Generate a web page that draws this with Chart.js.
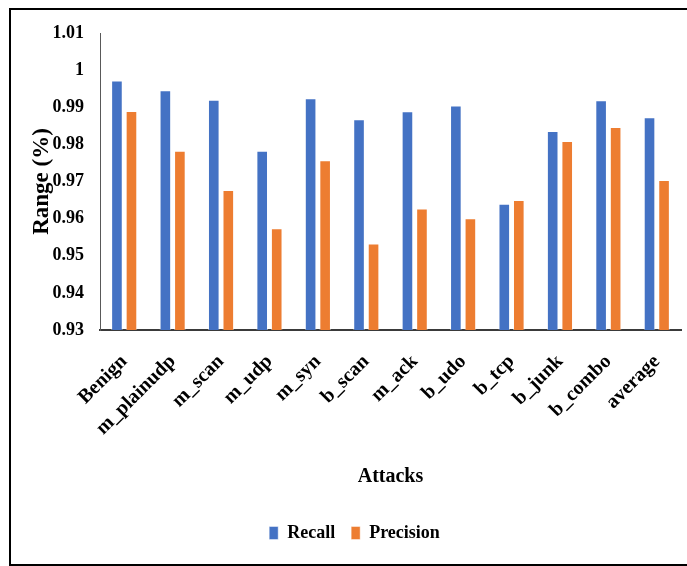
<!DOCTYPE html>
<html>
<head>
<meta charset="utf-8">
<script src="https://cdn.jsdelivr.net/npm/chart.js@4/dist/chart.umd.min.js"></script>
<style>
  html, body { margin: 0; padding: 0; background: #ffffff; }
  #wrap { position: relative; width: 687px; height: 566px; }
</style>
</head>
<body>
<div id="wrap"><canvas id="chart" width="687" height="566"></canvas></div>
<script>
// Attack categories on the x axis
const attacks = ['Benign', 'm_plainudp', 'm_scan', 'm_udp', 'm_syn', 'b_scan',
                 'm_ack', 'b_udo', 'b_tcp', 'b_junk', 'b_combo', 'average'];

// Recall and precision per attack type
const recall    = [0.9972, 0.9946, 0.9920, 0.9783, 0.9924, 0.9868,
                   0.9889, 0.9905, 0.9640, 0.9836, 0.9919, 0.9873];
const precision = [0.9890, 0.9783, 0.9677, 0.9574, 0.9757, 0.9533,
                   0.9627, 0.9601, 0.9650, 0.9809, 0.9847, 0.9704];

// Y axis range and tick step
const yMin = 0.93;
const yMax = 1.01;
const yStep = 0.01;

const serif = '"Liberation Serif", "Times New Roman", serif';

// Thin frame around the whole figure
const framePlugin = {
  id: 'frame',
  beforeDraw(chart) {
    const ctx = chart.ctx;
    ctx.save();
    ctx.fillStyle = '#ffffff';
    ctx.fillRect(0, 0, chart.width, chart.height);
    ctx.strokeStyle = '#000000';
    ctx.lineWidth = 2;
    ctx.strokeRect(10, 9, chart.width + 20, chart.height - 10);
    ctx.restore();
  }
};

new Chart(document.getElementById('chart'), {
  type: 'bar',
  data: {
    labels: attacks,
    datasets: [
      {
        label: 'Recall',
        data: recall,
        backgroundColor: '#4472C4',
        borderColor: 'rgba(255,255,255,0.45)',
        borderWidth: 1,
        categoryPercentage: 0.6,
        barPercentage: 0.8
      },
      {
        label: 'Precision',
        data: precision,
        backgroundColor: '#ED7D31',
        borderColor: 'rgba(255,255,255,0.45)',
        borderWidth: 1,
        categoryPercentage: 0.6,
        barPercentage: 0.8
      }
    ]
  },
  options: {
    responsive: false,
    animation: false,
    devicePixelRatio: 1,
    layout: { padding: { top: 33, right: 6, bottom: 14, left: 28 } },
    plugins: {
      legend: {
        position: 'bottom',
        labels: {
          color: '#000000',
          font: { family: serif, size: 18, weight: 'bold' },
          boxWidth: 9,
          boxHeight: 13,
          padding: 16
        }
      },
      tooltip: { enabled: false }
    },
    scales: {
      x: {
        grid: { display: false, drawTicks: false },
        border: { display: true, color: '#3a3a3a', width: 2 },
        ticks: {
          color: '#000000',
          font: { family: serif, size: 20, weight: 'bold' },
          minRotation: 45,
          maxRotation: 45,
          padding: 20,
          autoSkip: false
        },
        title: {
          display: true,
          text: 'Attacks',
          color: '#000000',
          font: { family: serif, size: 20, weight: 'bold' },
          padding: { top: 0, bottom: 19 }
        },
        afterFit(scale) {
          scale.height = 178;
          scale.paddingLeft = 0;
          scale.paddingRight = 0;
        }
      },
      y: {
        min: yMin,
        max: yMax,
        grid: { display: false, drawTicks: false },
        border: { display: true, color: '#595959', width: 1 },
        ticks: {
          stepSize: yStep,
          color: '#000000',
          font: { family: serif, size: 18, weight: 'bold' },
          padding: 16,
          callback: (v) => parseFloat(v.toFixed(2)).toString()
        },
        title: {
          display: true,
          text: 'Range (%)',
          color: '#000000',
          font: { family: serif, size: 23, weight: 'bold' },
          padding: { top: 0, bottom: 0 }
        },
        afterFit(scale) { scale.width = 72; }
      }
    }
  },
  plugins: [framePlugin]
});
</script>
</body>
</html>
